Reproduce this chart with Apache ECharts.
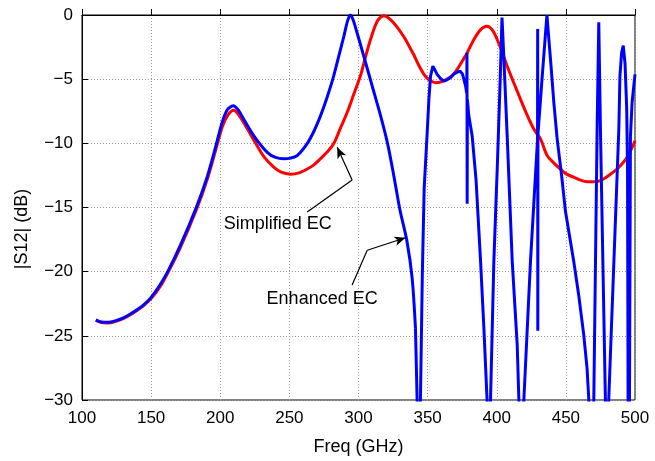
<!DOCTYPE html>
<html>
<head>
<meta charset="utf-8">
<title>S12</title>
<script src="https://cdn.jsdelivr.net/npm/echarts/dist/echarts.min.js"></script>
<style>
    html, body { margin: 0; padding: 0; background: #fff; }
    #s12Chart { width: 655px; height: 461px; }
</style>
</head>
<body>
<div id="s12Chart"></div>
<script>
    // axis ticks
    var xTicks = [100, 150, 200, 250, 300, 350, 400, 450, 500];
    var yTicks = [-30, -25, -20, -15, -10, -5, 0];

    // Simplified EC (red)
    var simpFreq = [110, 114, 119, 125, 130, 135, 140, 145, 150, 156, 162, 171.2, 182.8, 190.6, 197.8, 201.5, 205.5, 209.8,
        213.5, 218.3, 226.7, 232, 238.7, 244, 250.8, 257, 262.9, 267.5, 272.5, 278, 282.2, 287, 291.8, 296.5,
        301.5, 305, 308.7, 313.5, 318.3, 322, 325.5, 329, 332.8, 336.5, 340, 343.5, 347.2, 351, 355.7, 360,
        364.1, 368, 371.4, 375, 378.6, 383, 388.3, 393.1, 397, 400.3, 404, 407.5, 412, 417.2, 422, 426.9,
        431.7, 436.5, 441, 446, 450.5, 455.7, 460, 465.4, 470, 475, 481, 487, 494.3, 500];
    var simpS12 = [-23.8, -23.97, -24.0, -23.85, -23.65, -23.35, -23.0, -22.6, -22.1, -21.25, -20.1, -18.1, -15.15, -12.8, -10.1, -8.7, -7.8, -7.42,
        -7.8, -8.63, -10.19, -11.1, -11.86, -12.25, -12.4, -12.3, -12.0, -11.7, -11.2, -10.6, -10.0, -8.8, -7.6, -6.2,
        -4.7, -3.3, -1.91, -0.5, -0.05, -0.25, -0.62, -1.1, -1.7, -2.4, -3.1, -3.9, -4.6, -5.05, -5.27, -5.2,
        -5.0, -4.7, -4.24, -3.6, -2.95, -2.0, -1.14, -0.88, -1.2, -1.91, -2.9, -3.98, -5.2, -6.57, -7.8, -8.9,
        -9.67, -10.96, -11.5, -12.0, -12.4, -12.64, -12.85, -13.0, -13.0, -12.9, -12.5, -12.0, -11.09, -9.8];

    // Enhanced EC (blue), smooth part
    var enhFreqA = [110, 114, 119, 125, 130, 135, 140, 145, 150, 156, 162, 171.2, 182.8, 190.6, 196.6, 201, 205, 209.4,
        213, 217, 224.3, 234, 240, 246, 251, 255.6, 263, 268, 272.5, 277, 281.4, 285.5, 289.4, 292, 294,
        296, 299, 303.8, 309.9, 316, 321, 325.5, 330, 335, 338.8, 341.2];
    var enhS12A = [-23.75, -23.92, -23.95, -23.8, -23.6, -23.3, -22.95, -22.55, -22.0, -21.1, -20.0, -17.94, -14.96, -12.6, -10.3, -8.5, -7.4, -7.08,
        -7.4, -8.12, -9.41, -10.7, -11.1, -11.2, -11.15, -10.96, -10.0, -9.0, -7.86, -6.5, -5.0, -3.3, -1.66, -0.5, 0.0,
        -0.35, -1.4, -3.2, -5.53, -7.86, -10.0, -12.5, -15.2, -17.6, -20.5, -24.4];

    // Enhanced EC (blue), resonant part
    var enhFreqB = [341.2, 342.4, 343.6, 344.8, 346.2, 347.5, 349.7, 350.9, 352.1, 353.8, 356.9, 359.3, 361.7, 364, 366.5,
        369, 371.4, 373.4, 375.2, 376.2, 377.4, 378.3, 378.45, 378.6, 378.75, 379.8, 382.2, 385, 388.3, 390.7,
        393, 394.2, 395.5, 397.9, 400.5, 402.5, 403.8, 405.2, 407.5, 411.2, 414.8, 416, 417.8, 419.6, 424.4,
        429.5, 429.6, 429.7, 429.8, 432.9, 435, 436.3, 437.4, 438.9, 441.3, 443.7, 446.8, 449.7, 455.7, 459.5,
        462.9, 465.3, 466.6, 468.4, 470.2, 472.6, 473.8, 475, 478.6, 479.8, 481, 488.3, 489.1, 490.3, 491.5,
        492.8, 494, 494.6, 495, 495.5, 496, 496.7, 497.9, 500];
    var enhS12B = [-24.4, -30, -34, -30, -20, -13.5, -9.15, -6.6, -4.76, -3.98, -4.63, -4.95, -5.15, -5.05, -4.88,
        -4.6, -4.45, -4.37, -4.6, -5.0, -5.5, -6.1, -2.95, -14.7, -6.6, -7.86, -9.4, -12.8, -19.2, -24.4,
        -30, -34, -30, -19.2, -11.5, -5, -0.2, -3.5, -9.3, -19.2, -25.7, -30, -34, -30, -19.2,
        -9.7, -1.09, -24.6, -9.3, -4.76, -1.8, 0, -1.5, -3.47, -6.82, -9.67, -12.4, -15.3, -19.2, -22,
        -24.9, -27.5, -30, -34, -30, -8.9, -0.57, -8.9, -30, -34, -30, -8.9, -4.76, -2.95, -2.38,
        -3.8, -7.3, -12, -30, -34, -30, -9.5, -6.8, -4.63];

    // annotations
    var simpArrow = [[262.9, -15.35], [295.4, -12.85], [284.6, -10.3]];
    var enhArrow = [[295.4, -21.04], [306.3, -18.33], [334, -17.36]];
    var notes = [
        {name: 'Simplified EC', coord: [241.6, -16.3]},
        {name: 'Enhanced EC', coord: [273.7, -22.1]}
    ];

    function zip(xs, ys) {
        var out = [];
        for (var i = 0; i < xs.length; i++) {
            out.push([xs[i], ys[i]]);
        }
        return out;
    }

    function arrowLines(pts) {
        return [
            [{coord: pts[0], symbol: 'none'}, {coord: pts[1], symbol: 'none'}],
            [{coord: pts[1], symbol: 'none'}, {coord: pts[2], symbol: 'arrow', symbolSize: [7, 11]}]
        ];
    }

    var fontFam = 'Liberation Sans, Arial, sans-serif';

    var chart = echarts.init(document.getElementById('s12Chart'));

    var option = {
        animation: false,
        backgroundColor: '#fff',
        grid: {
            left: 82, right: 20, top: 15, bottom: 60,
            show: true, borderColor: '#000', borderWidth: 1
        },
        xAxis: {
            type: 'value',
            min: xTicks[0],
            max: xTicks[xTicks.length - 1],
            interval: xTicks[1] - xTicks[0],
            name: 'Freq (GHz)',
            nameLocation: 'middle',
            nameGap: 38,
            nameTextStyle: {fontSize: 18, color: '#000', fontFamily: fontFam},
            axisLine: {lineStyle: {color: '#000', width: 1}},
            axisTick: {inside: true, length: 6, lineStyle: {color: '#000'}},
            axisLabel: {fontSize: 17, color: '#000', fontFamily: fontFam, margin: 10},
            splitLine: {show: true, lineStyle: {color: '#999', type: [1, 2], width: 1}}
        },
        yAxis: {
            type: 'value',
            min: yTicks[0],
            max: yTicks[yTicks.length - 1],
            interval: yTicks[1] - yTicks[0],
            axisLine: {show: true, lineStyle: {color: '#000', width: 1}},
            axisTick: {show: true, inside: true, length: 6, lineStyle: {color: '#000'}},
            axisLabel: {
                fontSize: 17, color: '#000', fontFamily: fontFam, margin: 9,
                formatter: function (v) { return v < 0 ? '\u2212' + Math.abs(v) : String(v); }
            },
            splitLine: {show: true, lineStyle: {color: '#999', type: [1, 2], width: 1}}
        },
        graphic: [{
            type: 'text',
            x: 22, y: 229,
            rotation: Math.PI / 2,
            style: {
                text: '|S12| (dB)',
                fontSize: 18, fontFamily: fontFam, fill: '#000',
                textAlign: 'center', textVerticalAlign: 'middle'
            }
        }],
        series: [
            {
                name: 'Simplified EC',
                type: 'line',
                data: zip(simpFreq, simpS12),
                smooth: 0.3,
                showSymbol: false,
                lineStyle: {color: '#ff0000', width: 3},
                markLine: {
                    silent: true,
                    symbol: ['none', 'none'],
                    label: {show: false},
                    lineStyle: {color: '#000', width: 1.2, type: 'solid'},
                    itemStyle: {color: '#000'},
                    data: arrowLines(simpArrow).concat(arrowLines(enhArrow))
                }
            },
            {
                name: 'Enhanced EC',
                type: 'line',
                data: zip(enhFreqA, enhS12A),
                smooth: 0.3,
                showSymbol: false,
                lineStyle: {color: '#0000ff', width: 3},
                markPoint: {
                    silent: true,
                    symbol: 'circle',
                    symbolSize: 0,
                    label: {
                        show: true, position: 'inside', formatter: '{b}',
                        fontSize: 18, color: '#000', fontFamily: fontFam
                    },
                    data: notes
                }
            },
            {
                name: 'Enhanced EC',
                type: 'line',
                data: zip(enhFreqB, enhS12B),
                showSymbol: false,
                lineStyle: {color: '#0000ff', width: 3}
            }
        ]
    };

    chart.setOption(option);
</script>
</body>
</html>
